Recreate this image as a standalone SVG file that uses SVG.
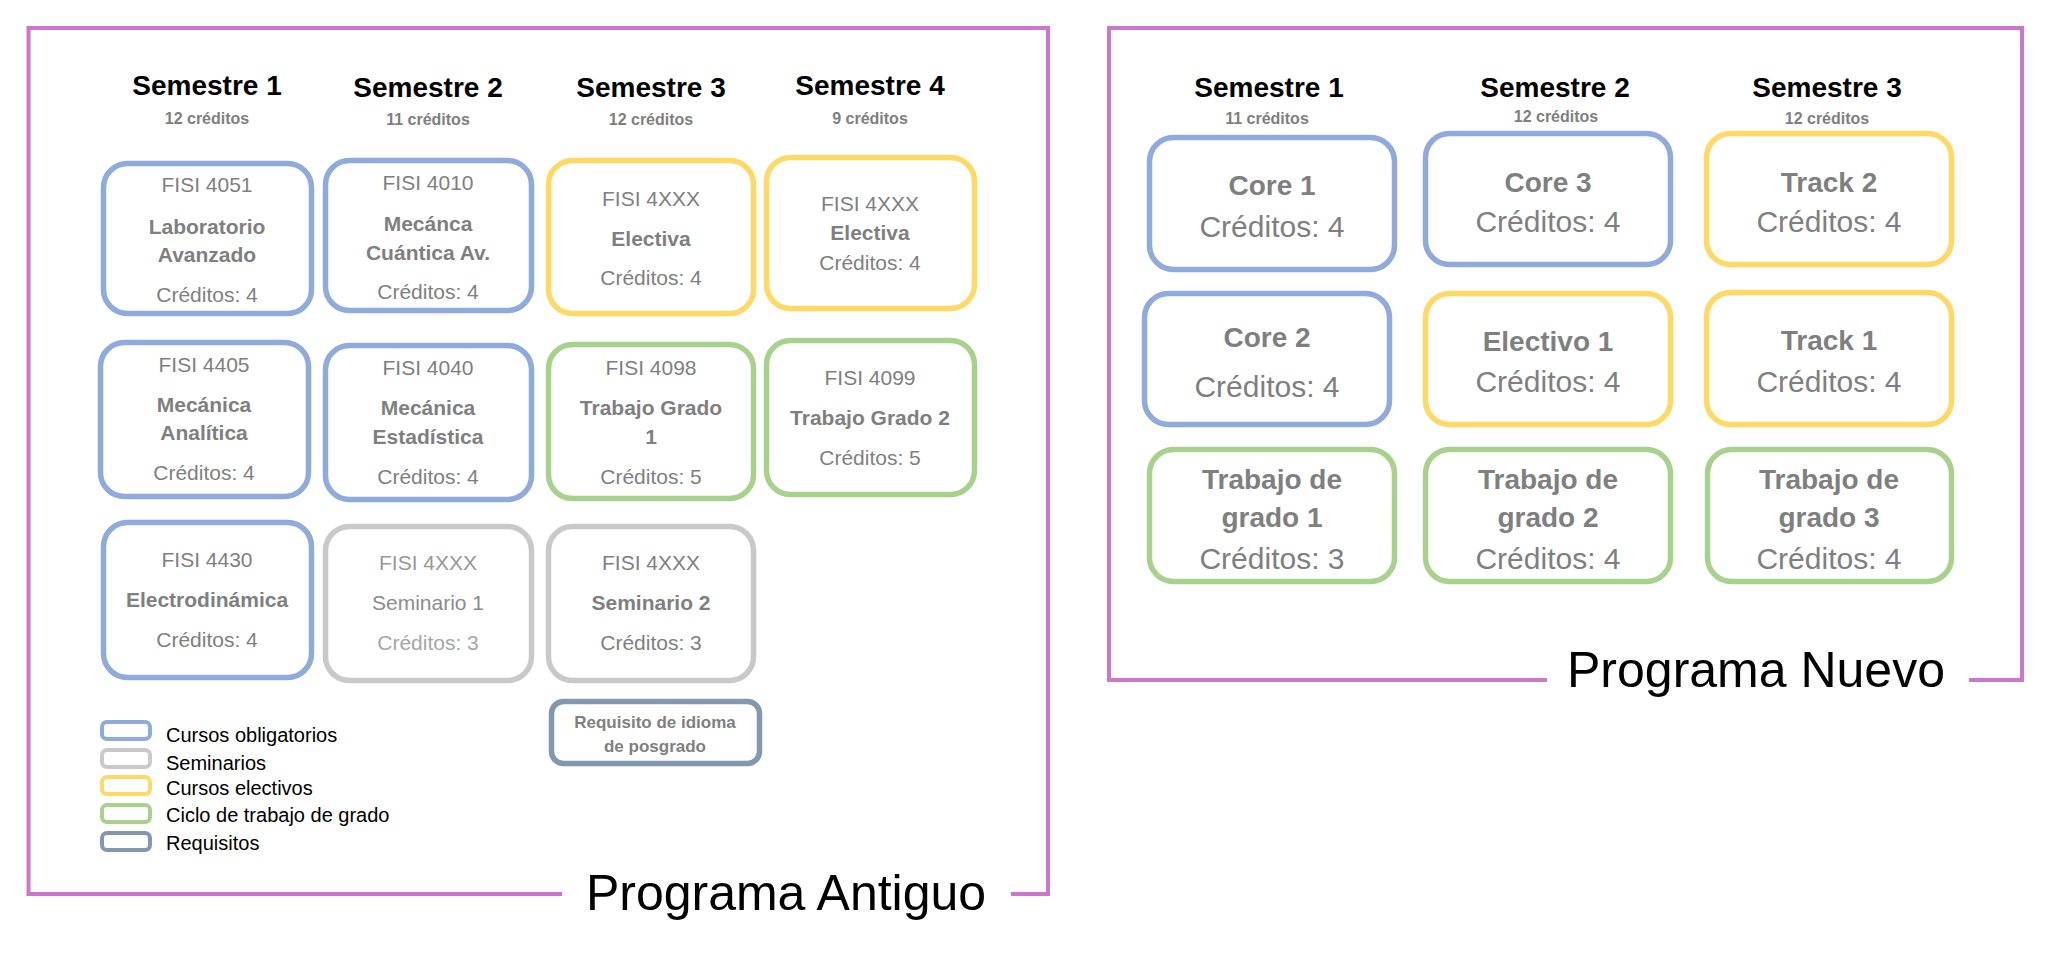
<svg xmlns="http://www.w3.org/2000/svg" width="2058" height="964" viewBox="0 0 2058 964">
<style>
text{font-family:"Liberation Sans",Arial,sans-serif;text-anchor:middle}
.frame{fill:none;stroke:#CC77CC;stroke-width:4}
.box{fill:#fff;stroke-width:5.5}
.b{stroke:#8FAADC}.y{stroke:#FFD966}.g{stroke:#A9D18E}.s{stroke:#C9C9C9}.r{stroke:#8497B0}
.hd{font-size:28px;font-weight:bold;fill:#000}
.sub{font-size:16px;font-weight:bold;fill:#7F7F7F}
.code{font-size:21px;fill:#7F7F7F}
.ttl{font-size:21px;font-weight:bold;fill:#7F7F7F}
.cr{font-size:21px;fill:#7F7F7F}
.lt{fill:#A6A6A6}
.big{font-size:50px;fill:#000}
.nt{font-size:28px;font-weight:bold;fill:#7F7F7F}
.nc{font-size:30px;fill:#7F7F7F}
.leg{font-size:20px;fill:#000;text-anchor:start}
.lr{fill:#fff;stroke-width:4}
</style>
<g id="frames">
<path class="frame" d="M1011,894 H1048 V28 H28.5 V894 H562"/>
<path class="frame" d="M1969,680 H2022 V28 H1109 V680 H1547"/>
<text class="big" x="786" y="910">Programa Antiguo</text>
<text class="big" x="1756" y="687">Programa Nuevo</text>
</g>
<g id="old-headers">
<text class="hd" x="207" y="95">Semestre 1</text>
<text class="sub" x="207" y="124">12 créditos</text>
<text class="hd" x="428" y="97">Semestre 2</text>
<text class="sub" x="428" y="125">11 créditos</text>
<text class="hd" x="651" y="97">Semestre 3</text>
<text class="sub" x="651" y="125">12 créditos</text>
<text class="hd" x="870" y="95">Semestre 4</text>
<text class="sub" x="870" y="124">9 créditos</text>
</g>
<g id="fisi4051">
<rect class="box b" x="103.5" y="163.5" width="208" height="150" rx="24"/>
<text class="code" x="207" y="192">FISI 4051</text>
<text class="ttl" x="207" y="234">Laboratorio</text>
<text class="ttl" x="207" y="262">Avanzado</text>
<text class="cr" x="207" y="302">Créditos: 4</text>
</g>
<g id="fisi4010">
<rect class="box b" x="325.5" y="160.5" width="206" height="150" rx="24"/>
<text class="code" x="428" y="190">FISI 4010</text>
<text class="ttl" x="428" y="231">Mecánca</text>
<text class="ttl" x="428" y="260">Cuántica Av.</text>
<text class="cr" x="428" y="299">Créditos: 4</text>
</g>
<g id="electiva3">
<rect class="box y" x="548.5" y="160.5" width="205" height="153" rx="24"/>
<text class="code" x="651" y="206">FISI 4XXX</text>
<text class="ttl" x="651" y="246">Electiva</text>
<text class="cr" x="651" y="285">Créditos: 4</text>
</g>
<g id="electiva4">
<rect class="box y" x="766.5" y="157.5" width="208" height="151" rx="24"/>
<text class="code" x="870" y="211">FISI 4XXX</text>
<text class="ttl" x="870" y="240">Electiva</text>
<text class="cr" x="870" y="270">Créditos: 4</text>
</g>
<g id="fisi4405">
<rect class="box b" x="100.5" y="342.5" width="208" height="154" rx="24"/>
<text class="code" x="204" y="372">FISI 4405</text>
<text class="ttl" x="204" y="412">Mecánica</text>
<text class="ttl" x="204" y="440">Analítica</text>
<text class="cr" x="204" y="480">Créditos: 4</text>
</g>
<g id="fisi4040">
<rect class="box b" x="325.5" y="345.5" width="206" height="154" rx="24"/>
<text class="code" x="428" y="375">FISI 4040</text>
<text class="ttl" x="428" y="415">Mecánica</text>
<text class="ttl" x="428" y="444">Estadística</text>
<text class="cr" x="428" y="484">Créditos: 4</text>
</g>
<g id="fisi4098">
<rect class="box g" x="548.5" y="344.5" width="205" height="154" rx="24"/>
<text class="code" x="651" y="375">FISI 4098</text>
<text class="ttl" x="651" y="415">Trabajo Grado</text>
<text class="ttl" x="651" y="444">1</text>
<text class="cr" x="651" y="484">Créditos: 5</text>
</g>
<g id="fisi4099">
<rect class="box g" x="766.5" y="340.5" width="208" height="154" rx="24"/>
<text class="code" x="870" y="385">FISI 4099</text>
<text class="ttl" x="870" y="425">Trabajo Grado 2</text>
<text class="cr" x="870" y="465">Créditos: 5</text>
</g>
<g id="fisi4430">
<rect class="box b" x="103.5" y="522.5" width="208" height="155" rx="24"/>
<text class="code" x="207" y="567">FISI 4430</text>
<text class="ttl" x="207" y="607">Electrodinámica</text>
<text class="cr" x="207" y="647">Créditos: 4</text>
</g>
<g id="seminario1">
<rect class="box s" x="325.5" y="526.5" width="206" height="154" rx="24"/>
<text class="code" x="428" y="570" style="fill:#999">FISI 4XXX</text>
<text class="cr" x="428" y="610" style="fill:#8C8C8C">Seminario 1</text>
<text class="cr lt" x="428" y="650">Créditos: 3</text>
</g>
<g id="seminario2">
<rect class="box s" x="548.5" y="526.5" width="205" height="154" rx="24"/>
<text class="code" x="651" y="570">FISI 4XXX</text>
<text class="ttl" x="651" y="610">Seminario 2</text>
<text class="cr" x="651" y="650">Créditos: 3</text>
</g>
<g id="requisito">
<rect class="box r" x="551.5" y="701.5" width="208" height="62" rx="12"/>
<text class="ttl" x="655" y="728" style="font-size:17px">Requisito de idioma</text>
<text class="ttl" x="655" y="752" style="font-size:17px">de posgrado</text>
</g>
<g id="legend">
<rect class="lr b" x="102" y="722" width="48" height="17" rx="5"/>
<text class="leg" x="166" y="742">Cursos obligatorios</text>
<rect class="lr s" x="102" y="750" width="48" height="17" rx="5"/>
<text class="leg" x="166" y="770">Seminarios</text>
<rect class="lr y" x="102" y="777" width="48" height="17" rx="5"/>
<text class="leg" x="166" y="795">Cursos electivos</text>
<rect class="lr g" x="102" y="805" width="48" height="17" rx="5"/>
<text class="leg" x="166" y="822">Ciclo de trabajo de grado</text>
<rect class="lr r" x="102" y="833" width="48" height="17" rx="5"/>
<text class="leg" x="166" y="850">Requisitos</text>
</g>
<g id="new-headers">
<text class="hd" x="1269" y="97">Semestre 1</text>
<text class="sub" x="1267" y="124">11 créditos</text>
<text class="hd" x="1555" y="97">Semestre 2</text>
<text class="sub" x="1556" y="122">12 créditos</text>
<text class="hd" x="1827" y="97">Semestre 3</text>
<text class="sub" x="1827" y="124">12 créditos</text>
</g>
<g id="core1">
<rect class="box b" x="1149.5" y="137.5" width="245" height="132" rx="24"/>
<text class="nt" x="1272" y="195">Core 1</text>
<text class="nc" x="1272" y="237">Créditos: 4</text>
</g>
<g id="core3">
<rect class="box b" x="1425.5" y="133.5" width="245" height="131" rx="24"/>
<text class="nt" x="1548" y="192">Core 3</text>
<text class="nc" x="1548" y="232">Créditos: 4</text>
</g>
<g id="track2">
<rect class="box y" x="1706.5" y="133.5" width="245" height="131" rx="24"/>
<text class="nt" x="1829" y="192">Track 2</text>
<text class="nc" x="1829" y="232">Créditos: 4</text>
</g>
<g id="core2">
<rect class="box b" x="1144.5" y="293.5" width="245" height="131" rx="24"/>
<text class="nt" x="1267" y="347">Core 2</text>
<text class="nc" x="1267" y="397">Créditos: 4</text>
</g>
<g id="electivo1">
<rect class="box y" x="1425.5" y="293.5" width="245" height="131" rx="24"/>
<text class="nt" x="1548" y="351">Electivo 1</text>
<text class="nc" x="1548" y="392">Créditos: 4</text>
</g>
<g id="track1">
<rect class="box y" x="1706.5" y="292.5" width="245" height="132" rx="24"/>
<text class="nt" x="1829" y="350">Track 1</text>
<text class="nc" x="1829" y="392">Créditos: 4</text>
</g>
<g id="tg1">
<rect class="box g" x="1149.5" y="449.5" width="245" height="132" rx="24"/>
<text class="nt" x="1272" y="489">Trabajo de</text>
<text class="nt" x="1272" y="527">grado 1</text>
<text class="nc" x="1272" y="569">Créditos: 3</text>
</g>
<g id="tg2">
<rect class="box g" x="1425.5" y="449.5" width="245" height="132" rx="24"/>
<text class="nt" x="1548" y="489">Trabajo de</text>
<text class="nt" x="1548" y="527">grado 2</text>
<text class="nc" x="1548" y="569">Créditos: 4</text>
</g>
<g id="tg3">
<rect class="box g" x="1707.5" y="449.5" width="244" height="132" rx="24"/>
<text class="nt" x="1829" y="489">Trabajo de</text>
<text class="nt" x="1829" y="527">grado 3</text>
<text class="nc" x="1829" y="569">Créditos: 4</text>
</g>
<g id="connectors"></g>
</svg>
